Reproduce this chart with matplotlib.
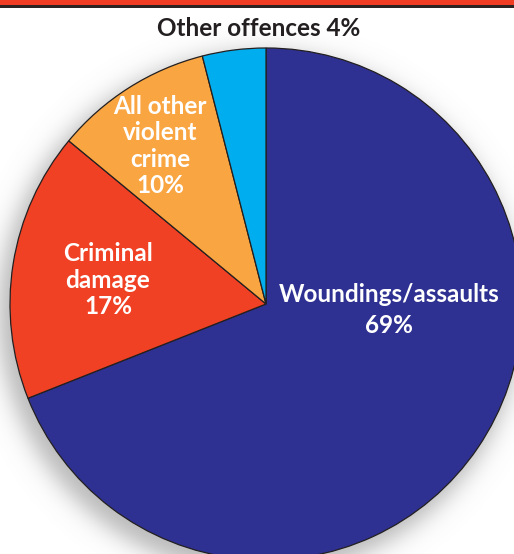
import numpy as np
import matplotlib
matplotlib.use("Agg")
import matplotlib.pyplot as plt
from matplotlib.patches import Rectangle

categories = ["Woundings/assaults", "Criminal damage", "All other violent crime", "Other offences"]
values = [69, 17, 10, 4]
labels = ["Woundings/assaults\n69%", "Criminal\ndamage\n17%", "All other\nviolent\ncrime\n10%", ""]
title_label = "Other offences 4%"
colors = ["#2E3192", "#F04124", "#F9A541", "#00AEEF"]

W, H = 514, 554
fig = plt.figure(figsize=(W / 100, H / 100), dpi=100)
ax = fig.add_axes([0, 0, 1, 1])
ax.set_xlim(0, W)
ax.set_ylim(0, H)
ax.set_aspect("equal")
ax.axis("off")

cx, cy, R = 266, H - 304, 256

# soft shadow
yy, xx = np.mgrid[0:H, 0:W]
sx, sy = cx - 7, (H - yy) - (cy - 9)
d = np.sqrt((xx - sx) ** 2 + sy ** 2)
alpha = 0.5 / (1 + np.exp((d - (R + 5)) / 7.0))
shadow = np.zeros((H, W, 4))
shadow[..., 0:3] = 0.45
shadow[..., 3] = alpha
ax.imshow(shadow, extent=(0, W, 0, H), origin="upper", zorder=0, interpolation="bilinear")

wedges, _ = ax.pie(values, colors=colors, startangle=90, counterclock=False,
                   center=(cx, cy), radius=R,
                   wedgeprops=dict(edgecolor="#231F20", linewidth=0.9))
for w in wedges:
    w.set_zorder(2)
ax.set_xlim(0, W)
ax.set_ylim(0, H)

font = "Lato"
fs = 17.5
wt = "bold"
ax.text(389, H - 310, labels[0], color="white", fontsize=fs, fontweight=wt,
        family=font, ha="center", va="center", linespacing=1.38, zorder=3)
ax.text(108, H - 280, labels[1], color="white", fontsize=fs, fontweight=wt,
        family=font, ha="center", va="center", linespacing=1.18, zorder=3)
ax.text(160, H - 146, labels[2], color="white", fontsize=fs, fontweight=wt,
        family=font, ha="center", va="center", linespacing=1.17, zorder=3)
ax.text(259, H - 28, title_label, color="#231F20", fontsize=fs, fontweight=wt,
        family=font, ha="center", va="center", zorder=3)

# top bar
ax.add_patch(Rectangle((0, H - 5), W, 5, facecolor="#F03C23", edgecolor="none", zorder=4))
ax.add_patch(Rectangle((0, H - 7.5), W, 2.5, facecolor="#2B2222", edgecolor="none", zorder=4))

fig.savefig("out.png", dpi=100)
